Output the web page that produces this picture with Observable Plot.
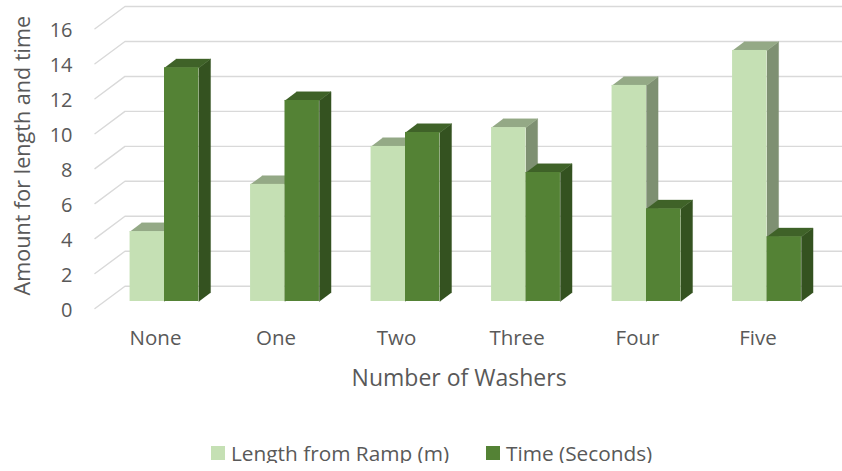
<!DOCTYPE html>
<html><head><meta charset="utf-8">
<script src="https://cdn.jsdelivr.net/npm/d3@7"></script>
<script src="https://cdn.jsdelivr.net/npm/@observablehq/plot@0.6"></script>
<style>
html,body{margin:0;padding:0;background:#fff;overflow:hidden}
svg{display:block}
#lg{display:flex;align-items:center;height:20px;margin-top:10px;padding-left:211px;font:20.8px "Open Sans",sans-serif;color:#595959}
#lg i{display:inline-block;width:14px;height:14px;margin-right:6px}
</style></head><body><div id="c"></div>
<div id="lg"></div>
<script>
const categories = ["None","One","Two","Three","Four","Five"];
const lengthValues = [4.0,6.7,8.87,9.95,12.36,14.36];
const timeValues = [13.37,11.5,9.67,7.38,5.3,3.7];
const yTicks = [0,2,4,6,8,10,12,14,16];
const seriesNames = ["Length from Ramp (m)","Time (Seconds)"];
const xTitle = "Number of Washers";
const yTitle = "Amount for length and time";

const font = '"Open Sans",sans-serif', grey = "#595959";
const barW = 1/3.5, depthX = 0.0963, depthY = 0.5, frontY = 0.875;
const wallX = -0.328, floorX = -0.577, floorY = 1.276, endX = 5.63;

const gridPts = yTicks.flatMap(v => [
  {k:v,x:floorX,y:v-floorY},{k:v,x:wallX,y:v},{k:v,x:endX,y:v}]);

function faces(values, offset){
  const front=[], top=[], side=[];
  values.forEach((v,i)=>{
    const x1=i+offset*barW, x2=x1+barW, b=-frontY, t=v-frontY;
    front.push({x1,x2,y1:b,y2:t});
    [[x1,t],[x2,t],[x2+depthX,t+depthY],[x1+depthX,t+depthY]].forEach(([x,y])=>top.push({k:i,x,y}));
    [[x2,b],[x2,t],[x2+depthX,t+depthY],[x2+depthX,b+depthY]].forEach(([x,y])=>side.push({k:i,x,y}));
  });
  return {front,top,side};
}
function bars(values, offset, cf, ct, cs){
  const f=faces(values,offset);
  return [
    Plot.line(f.side,{x:"x",y:"y",z:"k",fill:cs,stroke:cs,strokeWidth:0.4}),
    Plot.line(f.top,{x:"x",y:"y",z:"k",fill:ct,stroke:ct,strokeWidth:0.4}),
    Plot.rect(f.front,{x1:"x1",x2:"x2",y1:"y1",y2:"y2",fill:cf})
  ];
}
const colors=["#C5E0B4","#548235"];
const chart = Plot.plot({
  width:842,height:433,marginLeft:75,marginRight:0,marginTop:0,marginBottom:105,
  style:{background:"#fff",fontFamily:font},
  x:{type:"linear",domain:[-1,5],range:[43.5,766.5],axis:null},
  y:{type:"linear",domain:[0,16],range:[285.7,6],axis:null},
  marks:[
    Plot.line(gridPts,{x:"x",y:"y",z:"k",stroke:"#d9d9d9",strokeWidth:1.4}),
    ...bars(lengthValues,-1,colors[0],"#94A986","#7E9072"),
    ...bars(timeValues,0,colors[1],"#3F6228","#345220"),
    Plot.axisX({anchor:"bottom",ticks:d3.range(6),tickFormat:i=>categories[i],tickSize:0,tickPadding:0,label:null,fontSize:20.5,fill:grey,lineAnchor:"middle",dy:10,dx:-9}),
    Plot.axisY({anchor:"left",ticks:yTicks,tickSize:0,tickPadding:3,label:null,fontSize:20,fill:grey,dy:24.5}),
    Plot.text([xTitle],{x:2.445,y:-5.3,text:d=>d,fontSize:23,fill:grey}),
    Plot.text([yTitle],{x:-1.17,y:7.47,text:d=>d,rotate:-90,fontSize:21.6,fill:grey})
  ]
});
document.getElementById("c").append(chart);
const lg=document.getElementById("lg");
seriesNames.forEach((n,i)=>{
  const s=document.createElement("span");
  s.style.cssText="display:flex;align-items:center;"+(i==0?"width:275px":"");
  s.innerHTML=`<i style="background:${colors[i]}"></i>${n}`;
  lg.append(s);
});
</script></body></html>
